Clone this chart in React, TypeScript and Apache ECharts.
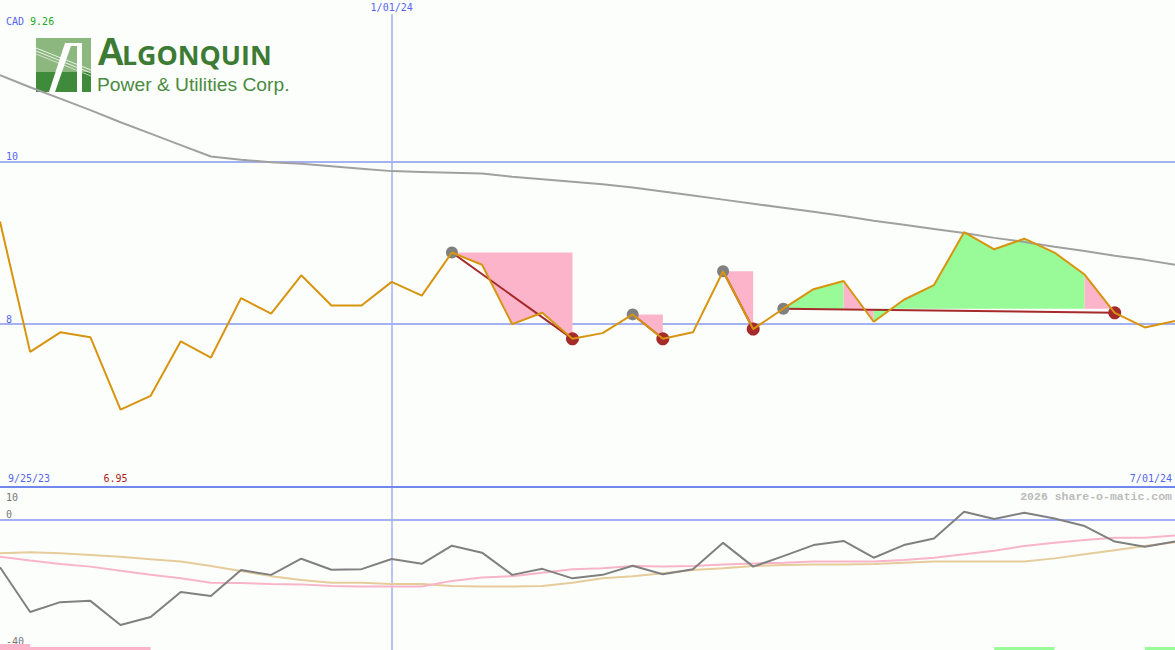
import React, { useEffect, useRef } from "react";
import * as echarts from "echarts";

// ---------- data ----------
const currency = "CAD";
const firstDateLabel = "9/25/23";
const midDateLabel = "1/01/24";
const lastDateLabel = "7/01/24";
const midDateIndex = 13;
const watermark = "2026 share-o-matic.com";

// weekly closing prices
const prices = [
  9.26, 7.66, 7.9, 7.84, 6.95, 7.12, 7.79, 7.59, 8.32, 8.13,
  8.6, 8.23, 8.23, 8.52, 8.35, 8.88, 8.73, 8.0, 8.14, 7.82,
  7.89, 8.12, 7.82, 7.9, 8.65, 7.94, 8.19, 8.43, 8.53, 8.03,
  8.3, 8.48, 9.13, 8.92, 9.05, 8.88, 8.61, 8.14, 7.96, 8.04,
];

// long moving average (grey)
const longAverage = [
  11.06, 10.91, 10.77, 10.63, 10.48, 10.34, 10.2, 10.06, 10.02, 9.99,
  9.97, 9.94, 9.91, 9.88, 9.87, 9.86, 9.85, 9.81, 9.78, 9.75,
  9.72, 9.68, 9.63, 9.58, 9.53, 9.48, 9.43, 9.38, 9.33, 9.27,
  9.22, 9.17, 9.12, 9.06, 9.01, 8.95, 8.9, 8.84, 8.79, 8.73,
];

// lower panel oscillator
const momentum = [
  -15.0, -29.1, -26.0, -25.6, -33.2, -30.7, -22.8, -24.1, -15.9, -17.4,
  -12.3, -15.8, -15.6, -12.4, -13.9, -8.2, -10.4, -17.4, -15.5, -18.5,
  -17.4, -14.5, -17.2, -15.6, -7.3, -14.8, -11.5, -8.0, -6.7, -12.0,
  -8.0, -5.9, 2.5, 0.2, 2.2, 0.4, -2.0, -6.9, -8.5, -6.9,
];
const momentumFast = [
  -11.7, -12.9, -14.0, -14.8, -16.1, -17.4, -18.5, -19.9, -20.0, -20.3,
  -20.4, -20.9, -21.1, -21.1, -21.1, -19.3, -18.2, -17.8, -16.7, -15.6,
  -15.3, -14.6, -14.8, -14.6, -14.1, -13.8, -13.6, -13.2, -13.2, -13.2,
  -12.7, -12.0, -10.9, -9.8, -8.3, -7.3, -6.4, -5.7, -5.7, -5.0,
];
const momentumSlow = [
  -10.6, -10.3, -10.6, -11.1, -11.7, -12.5, -13.2, -14.6, -16.2, -17.8,
  -19.0, -19.9, -19.9, -20.3, -20.3, -20.9, -21.1, -21.1, -20.9, -19.9,
  -18.5, -17.8, -16.9, -15.9, -15.3, -14.6, -14.3, -14.1, -14.1, -14.0,
  -13.6, -13.2, -13.2, -13.2, -13.2, -12.2, -10.9, -9.6, -8.3, -7.1,
];

// shaded areas: [startIndex, endIndex, levelIndex, kind (0 = pink, 1 = green)]
const fills = [
  [15, 19, 15, 0],
  [21, 22, 21, 0],
  [24, 25, 24, 0],
  [26, 28, 26, 1],
  [28, 29, 26, 0],
  [29, 36, 26, 1],
  [36, 37, 26, 0],
];
// swing high -> swing low pairs
const swings = [
  [15, 19],
  [21, 22],
  [24, 25],
  [26, 37],
];
// signal bars: [startIndex, endIndex, height, kind (0 = sell, 1 = buy)]
const signals = [
  [0, 5, 1, 0],
  [0, 1, 2, 0],
  [33, 35, 1, 1],
  [38, 39, 1, 1],
];
const mainTickLabels = [8, 10];
const subTickLabelsLow = [0, -40];
const subTickLabelsHigh = [10];

// ---------- styles ----------
const BG = "#fcfefc";
const BLUE_TEXT = "#5566ee";
const GRID_BLUE = "#a4b2f2";
const AXIS_BLUE = "#7088ee";
const ORANGE = "#d8940e";
const DARK_RED = "#a52a2a";
const PINK_FILL = "#fbb4c9";
const GREEN_FILL = "#98fb98";
const MONO = "'DejaVu Sans Mono', monospace";
const LOGO_DARK = "#3d7b35";

const X_MAX = prices.length - 1;
const minIdx = prices.indexOf(Math.min(...prices));
const peaks = swings.map((s) => s[0]);
const troughs = swings.map((s) => s[1]);

export default function App() {
  const ref = useRef<HTMLDivElement>(null);

  useEffect(() => {
    if (!ref.current) return;
    const chart = echarts.init(ref.current, undefined, { renderer: "svg" });

    const labelFont = { fontFamily: MONO, fontSize: 10 };

    const option: any = {
      animation: false,
      backgroundColor: BG,
      grid: [
        { left: 0, right: 0, top: 14, height: 473 },
        { left: 0, right: 0, top: 488, height: 162 },
        { left: 0, right: 0, top: 644, height: 6 },
      ],
      xAxis: [
        {
          gridIndex: 0,
          type: "value",
          min: 0,
          max: X_MAX,
          position: "bottom",
          z: 10,
          axisLine: { show: true, onZero: false, lineStyle: { color: AXIS_BLUE, width: 2 } },
          axisTick: { show: false },
          splitLine: { show: false },
          axisLabel: {
            inside: true,
            margin: 4,
            customValues: [0, minIdx, X_MAX],
            alignMinLabel: "left",
            alignMaxLabel: "right",
            ...labelFont,
            formatter: (v: number) =>
              v === 0
                ? `{l|${firstDateLabel}}`
                : v === X_MAX
                ? `{r|${lastDateLabel}}`
                : `{m|${prices[minIdx].toFixed(2)}}`,
            rich: {
              l: { color: BLUE_TEXT, padding: [0, 0, 0, 8], ...labelFont },
              r: { color: BLUE_TEXT, padding: [0, 3, 0, 0], ...labelFont },
              m: { color: "#aa2222", padding: [0, 10, 0, 0], ...labelFont },
            },
          },
        },
        { gridIndex: 1, type: "value", min: 0, max: X_MAX, show: false },
        { gridIndex: 2, type: "value", min: 0, max: X_MAX, show: false },
      ],
      yAxis: [
        {
          gridIndex: 0,
          type: "value",
          min: 6,
          max: 11.81,
          axisLine: { show: false },
          axisTick: { show: false },
          splitLine: { show: false },
          axisLabel: {
            inside: true,
            margin: 6,
            customValues: mainTickLabels,
            verticalAlign: "bottom",
            color: BLUE_TEXT,
            ...labelFont,
          },
        },
        {
          gridIndex: 1,
          type: "value",
          position: "left",
          min: -41.1,
          max: 10,
          axisLine: { show: false },
          axisTick: { show: false },
          splitLine: { show: false },
          axisLabel: {
            inside: true,
            margin: 6,
            customValues: subTickLabelsLow,
            verticalAlign: "bottom",
            color: "#777777",
            ...labelFont,
          },
        },
        {
          gridIndex: 1,
          type: "value",
          position: "left",
          offset: 0,
          min: -41.1,
          max: 10,
          axisLine: { show: false },
          axisTick: { show: false },
          splitLine: { show: false },
          axisLabel: {
            inside: true,
            margin: 6,
            customValues: subTickLabelsHigh,
            verticalAlign: "top",
            padding: [4, 0, 0, 0],
            color: "#777777",
            ...labelFont,
          },
        },
        { gridIndex: 2, type: "value", min: 0, max: 2, show: false },
      ],
      graphic: [
        {
          type: "text",
          left: 6,
          top: 16,
          z: 20,
          style: {
            text: `{c|${currency}} {v|${prices[0].toFixed(2)}}`,
            font: `10px ${MONO}`,
            rich: {
              c: { fill: BLUE_TEXT, fontFamily: MONO, fontSize: 10 },
              v: { fill: "#22aa22", fontFamily: MONO, fontSize: 10 },
            },
          },
        },
        {
          type: "text",
          right: 3,
          top: 490,
          z: 20,
          style: {
            text: watermark,
            fill: "#bbbbbb",
            font: "bold 11.5px 'Liberation Mono', monospace",
          },
        },
        {
          type: "group",
          x: 36,
          y: 38,
          z: 20,
          children: [
            { type: "rect", shape: { x: 0, y: 0, width: 55, height: 34 }, style: { fill: "#8cb880" } },
            { type: "rect", shape: { x: 0, y: 34, width: 55, height: 20 }, style: { fill: "#3f8b3b" } },
            { type: "line", shape: { x1: 0, y1: 10, x2: 55, y2: 32 }, style: { stroke: "#ffffff", lineWidth: 1, opacity: 0.8 } },
            { type: "line", shape: { x1: 0, y1: 13, x2: 55, y2: 35 }, style: { stroke: "#ffffff", lineWidth: 1, opacity: 0.8 } },
            { type: "line", shape: { x1: 0, y1: 16, x2: 55, y2: 38 }, style: { stroke: "#ffffff", lineWidth: 1, opacity: 0.6 } },
            {
              type: "polygon",
              shape: { points: [[13, 54], [19, 54], [36, 5], [29, 5]] },
              style: { fill: "#ffffff" },
            },
            { type: "rect", shape: { x: 41, y: 5, width: 5, height: 49 }, style: { fill: "#ffffff" } },
            { type: "rect", shape: { x: 29, y: 5, width: 17, height: 3 }, style: { fill: "#ffffff" } },
          ],
        },
        {
          type: "text",
          x: 97,
          y: 52,
          z: 20,
          style: {
            text: "A",
            font: "bold 38px 'Liberation Sans'",
            fill: LOGO_DARK,
            verticalAlign: "middle",
          },
        },
        {
          type: "text",
          x: 122,
          y: 55.5,
          z: 20,
          scaleX: 1.03,
          style: {
            text: "LGONQUIN",
            font: "bold 26px 'Open Sans'",
            fill: LOGO_DARK,
            verticalAlign: "middle",
          },
        },
        {
          type: "text",
          x: 97,
          y: 84.8,
          z: 20,
          scaleX: 1.07,
          style: {
            text: "Power & Utilities Corp.",
            font: "18px 'Liberation Sans'",
            fill: "#4a8a40",
            verticalAlign: "middle",
          },
        },
      ],
      series: [
        {
          type: "custom",
          xAxisIndex: 0,
          yAxisIndex: 0,
          z: 1,
          silent: true,
          data: fills,
          renderItem: (_p: any, api: any) => {
            const s = api.value(0);
            const e = api.value(1);
            const lvl = prices[api.value(2)];
            const kind = api.value(3);
            const pts: number[][] = [];
            for (let i = s; i <= e; i++) pts.push(api.coord([i, prices[i]]));
            pts.push(api.coord([e, lvl]));
            pts.push(api.coord([s, lvl]));
            return {
              type: "polygon",
              shape: { points: pts },
              style: { fill: kind === 0 ? PINK_FILL : GREEN_FILL },
            };
          },
        },
        {
          type: "line",
          xAxisIndex: 0,
          yAxisIndex: 0,
          z: 2,
          data: longAverage.map((v, i) => [i, v]),
          showSymbol: false,
          lineStyle: { color: "#a0a0a0", width: 2 },
          silent: true,
        },
        {
          type: "lines",
          coordinateSystem: "cartesian2d",
          xAxisIndex: 0,
          yAxisIndex: 0,
          z: 3,
          silent: true,
          data: swings.map(([a, b]) => ({ coords: [[a, prices[a]], [b, prices[b]]] })),
          lineStyle: { color: DARK_RED, width: 2, opacity: 1 },
        },
        {
          type: "scatter",
          xAxisIndex: 0,
          yAxisIndex: 0,
          z: 4,
          silent: true,
          symbolSize: 12,
          data: peaks.map((i) => [i, prices[i]]),
          itemStyle: { color: "#808080", opacity: 1 },
        },
        {
          type: "scatter",
          xAxisIndex: 0,
          yAxisIndex: 0,
          z: 4,
          silent: true,
          symbolSize: 13,
          data: troughs.map((i) => [i, prices[i]]),
          itemStyle: { color: DARK_RED, opacity: 1 },
        },
        {
          type: "line",
          xAxisIndex: 0,
          yAxisIndex: 0,
          z: 5,
          data: prices.map((v, i) => [i, v]),
          showSymbol: false,
          lineStyle: { color: ORANGE, width: 2 },
          silent: true,
          markLine: {
            silent: true,
            z: 1,
            symbol: ["none", "none"],
            label: { show: false },
            data: [
              ...mainTickLabels.map((v) => ({
                yAxis: v,
                lineStyle: { color: GRID_BLUE, width: 2, type: "solid" },
              })),
              {
                xAxis: midDateIndex,
                lineStyle: { color: GRID_BLUE, width: 1.5, type: "solid" },
                label: {
                  show: true,
                  position: "end",
                  distance: 2,
                  formatter: midDateLabel,
                  color: BLUE_TEXT,
                  ...labelFont,
                },
              },
            ],
          },
        },
        {
          type: "line",
          xAxisIndex: 1,
          yAxisIndex: 1,
          z: 2,
          data: momentumSlow.map((v, i) => [i, v]),
          showSymbol: false,
          lineStyle: { color: "#e6cc9a", width: 2 },
          silent: true,
          markLine: {
            silent: true,
            z: 1,
            symbol: ["none", "none"],
            label: { show: false },
            data: [
              { yAxis: 0, lineStyle: { color: GRID_BLUE, width: 2, type: "solid" } },
              { xAxis: midDateIndex, lineStyle: { color: GRID_BLUE, width: 1.5, type: "solid" } },
            ],
          },
        },
        {
          type: "line",
          xAxisIndex: 1,
          yAxisIndex: 1,
          z: 3,
          data: momentumFast.map((v, i) => [i, v]),
          showSymbol: false,
          lineStyle: { color: "#f8b4c8", width: 2 },
          silent: true,
        },
        {
          type: "line",
          xAxisIndex: 1,
          yAxisIndex: 1,
          z: 4,
          data: momentum.map((v, i) => [i, v]),
          showSymbol: false,
          lineStyle: { color: "#808080", width: 2 },
          silent: true,
        },
        {
          type: "custom",
          xAxisIndex: 2,
          yAxisIndex: 3,
          z: 5,
          silent: true,
          data: signals,
          renderItem: (_p: any, api: any) => {
            const p0 = api.coord([api.value(0), api.value(2)]);
            const p1 = api.coord([api.value(1), 0]);
            return {
              type: "rect",
              shape: { x: p0[0], y: p0[1], width: p1[0] - p0[0], height: p1[1] - p0[1] },
              style: { fill: api.value(3) === 0 ? PINK_FILL : GREEN_FILL },
            };
          },
        },
      ],
    };

    chart.setOption(option);
    return () => chart.dispose();
  }, []);

  return (
    <div
      ref={ref}
      style={{ position: "absolute", left: 0, top: 0, width: 1175, height: 650 }}
    />
  );
}
